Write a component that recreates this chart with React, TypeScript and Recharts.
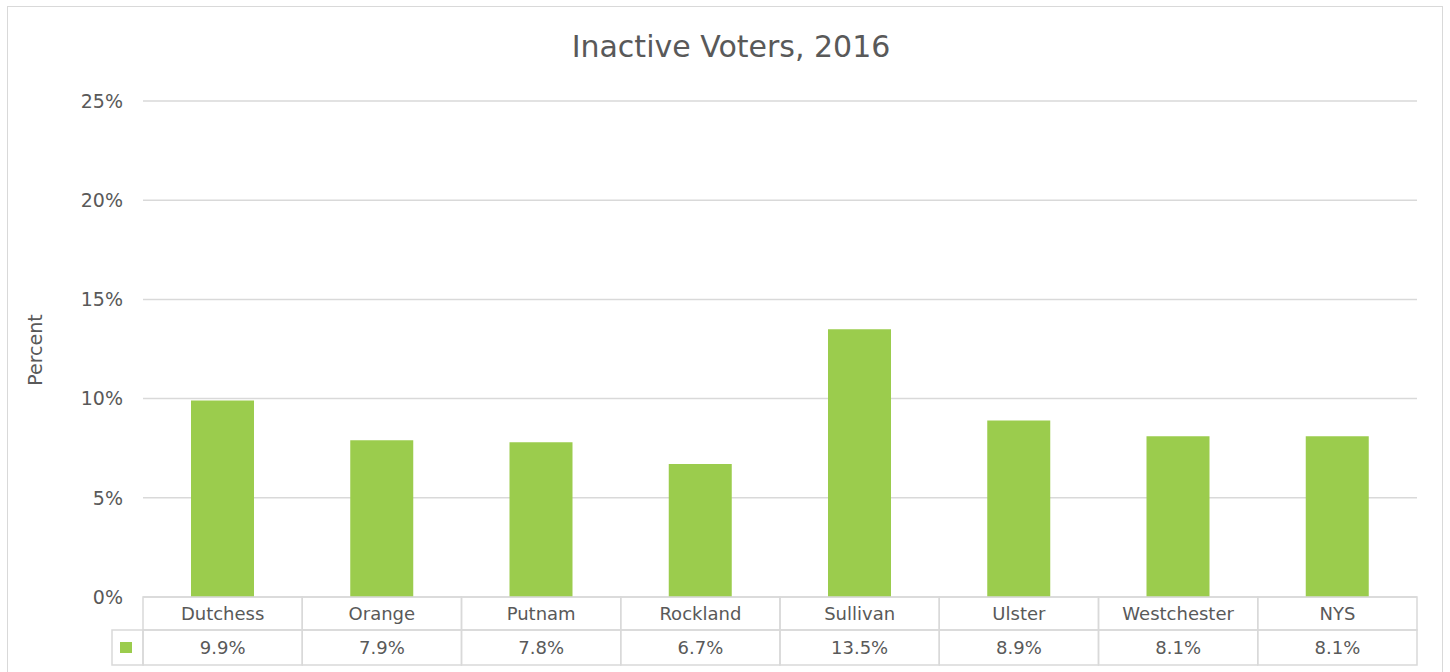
import { Bar, BarChart, CartesianGrid, XAxis, YAxis } from "recharts"

const counties = ["Dutchess", "Orange", "Putnam", "Rockland", "Sullivan", "Ulster", "Westchester", "NYS"]
const inactivePct = [9.9, 7.9, 7.8, 6.7, 13.5, 8.9, 8.1, 8.1]
const yTicks = [0, 5, 10, 15, 20, 25]

const data = counties.map((name, i) => ({ name, value: inactivePct[i] }))

const W = 1450
const H = 672
const tableH = 75
const margin = { top: 101, right: 33, bottom: 0, left: 43 }
const yAxisWidth = 100
const plotLeft = margin.left + yAxisWidth
const plotWidth = W - margin.right - plotLeft
const plotBottom = H - tableH
const bandW = plotWidth / counties.length

const textColor = "#595959"
const lineColor = "#d9d9d9"
const barColor = "#9BCC4D"
const font = "'DejaVu Sans', sans-serif"

const headRow = 33
const valueRow = 35

function TableTick(props: any) {
  const { x, payload, index } = props
  const left = x - bandW / 2
  const top = plotBottom
  return (
    <g>
      <rect x={left} y={top} width={bandW} height={headRow} fill="none" stroke={lineColor} strokeWidth={1.5} />
      <rect x={left} y={top + headRow} width={bandW} height={valueRow} fill="none" stroke={lineColor} strokeWidth={1.5} />
      <text x={x} y={top + headRow / 2} textAnchor="middle" dominantBaseline="central" fill={textColor} fontSize={18} fontFamily={font}>
        {payload.value}
      </text>
      <text x={x} y={top + headRow + valueRow / 2} textAnchor="middle" dominantBaseline="central" fill={textColor} fontSize={18} fontFamily={font}>
        {inactivePct[index].toFixed(1)}%
      </text>
      {index === 0 && (
        <g>
          <rect x={plotLeft - 31} y={top + headRow} width={31} height={valueRow} fill="none" stroke={lineColor} strokeWidth={1.5} />
          <rect x={plotLeft - 23} y={top + headRow + 12} width={12} height={11} fill={barColor} />
        </g>
      )}
    </g>
  )
}

export default function App() {
  return (
    <div style={{ position: "absolute", left: 0, top: 0, width: W, height: H, background: "#fff", overflow: "hidden", fontFamily: font }}>
      <div style={{ position: "absolute", left: 7, top: 6, width: 1436, height: 720, border: `1.5px solid ${lineColor}`, boxSizing: "border-box" }} />
      <div style={{ position: "absolute", left: 6, top: 29, width: W, textAlign: "center", fontSize: 30, color: textColor }}>
        Inactive Voters, 2016
      </div>
      <div style={{ position: "absolute", left: 0, top: 0 }}>
        <BarChart width={W} height={H} data={data} margin={margin}>
          <CartesianGrid vertical={false} stroke={lineColor} strokeWidth={1.5} />
          <XAxis
            dataKey="name"
            axisLine={false}
            tickLine={false}
            interval={0}
            height={tableH}
            tick={<TableTick />}
          />
          <YAxis
            width={yAxisWidth}
            domain={[0, 25]}
            ticks={yTicks}
            tickFormatter={(v: number) => `${v}%`}
            axisLine={false}
            tickLine={false}
            tickMargin={14}
            tick={{ fill: textColor, fontSize: 19, fontFamily: font }}
            label={{
              content: () => (
                <text x={35} y={350} transform="rotate(-90 35 350)" textAnchor="middle" dominantBaseline="central" fill={textColor} fontSize={19} fontFamily={font}>
                  Percent
                </text>
              ),
            }}
          />
          <Bar dataKey="value" fill={barColor} barSize={63} isAnimationActive={false} />
        </BarChart>
      </div>
    </div>
  )
}
